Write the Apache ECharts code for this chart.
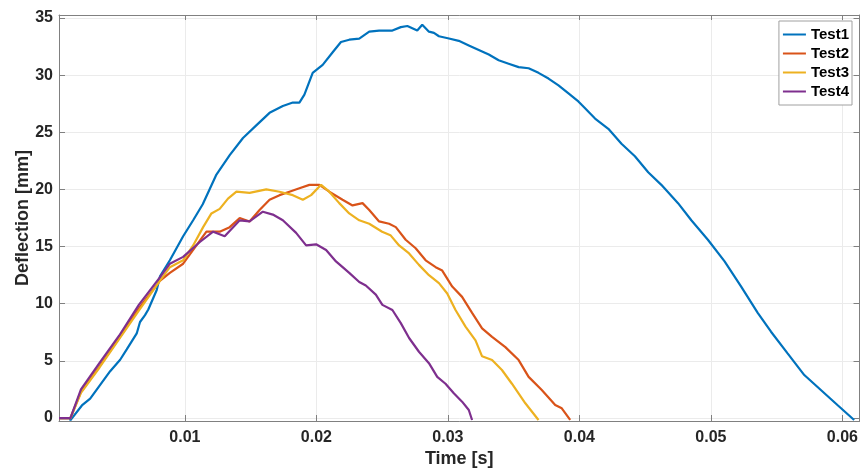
<!DOCTYPE html>
<html>
<head>
<meta charset="utf-8">
<script src="https://cdn.jsdelivr.net/npm/echarts@6/dist/echarts.min.js"></script>
<style>
html,body{margin:0;padding:0;background:#fff;}
#chart{width:861px;height:473px;}
</style>
</head>
<body>
<div id="chart"></div>
<script>
// ---- data (time [s], deflection [mm]) ----
const seriesNames = ['Test1', 'Test2', 'Test3', 'Test4'];
const xTicks = [0.01, 0.02, 0.03, 0.04, 0.05, 0.06];
const yTicks = [0, 5, 10, 15, 20, 25, 30, 35];

const test1 = [[0.00043,0],[0.00125,0],[0.00129,-0.2],[0.00217,1.1],[0.0028,1.7],[0.00356,2.9],[0.00432,4.1],[0.00508,5.1],[0.00558,6.0],[0.00634,7.4],[0.00659,8.4],[0.00697,9.0],[0.00722,9.5],[0.00786,11.2],[0.00811,12.4],[0.00886,13.8],[0.00987,15.9],[0.01063,17.3],[0.01136,18.7],[0.0124,21.3],[0.01341,23.0],[0.01442,24.5],[0.01543,25.6],[0.01644,26.7],[0.01745,27.3],[0.01821,27.6],[0.01871,27.6],[0.01909,28.3],[0.01972,30.2],[0.02048,30.9],[0.02124,32.0],[0.02187,32.9],[0.0225,33.1],[0.02326,33.2],[0.02402,33.8],[0.02477,33.9],[0.02578,33.9],[0.02642,34.2],[0.02692,34.3],[0.02767,33.9],[0.02805,34.4],[0.02856,33.8],[0.02894,33.7],[0.02932,33.4],[0.03008,33.2],[0.03083,33.0],[0.03159,32.6],[0.03235,32.2],[0.03311,31.8],[0.03386,31.3],[0.03462,31.0],[0.03538,30.7],[0.03614,30.6],[0.03689,30.2],[0.03765,29.7],[0.03841,29.1],[0.03917,28.4],[0.03992,27.7],[0.04017,27.4],[0.04119,26.2],[0.0422,25.3],[0.0432,24.0],[0.04422,22.9],[0.04523,21.5],[0.04623,20.4],[0.0475,18.8],[0.04851,17.3],[0.04977,15.6],[0.05104,13.7],[0.0523,11.5],[0.05356,9.2],[0.05457,7.55],[0.05583,5.66],[0.0571,3.76],[0.05836,2.45],[0.05962,1.14],[0.06089,-0.17]];

const test2 = [[0.00043,0],[0.0013,0],[0.0021,2.3],[0.0035,4.5],[0.005,7.0],[0.0065,9.6],[0.0081,12.0],[0.00886,12.7],[0.00987,13.5],[0.01088,15.1],[0.01164,16.3],[0.01265,16.3],[0.01341,16.7],[0.01417,17.5],[0.01492,17.2],[0.01568,18.2],[0.01644,19.1],[0.0172,19.5],[0.01795,19.8],[0.01871,20.1],[0.01947,20.4],[0.02023,20.4],[0.02098,19.8],[0.02199,19.1],[0.02275,18.6],[0.02351,18.8],[0.02402,18.2],[0.02477,17.2],[0.02553,17.0],[0.02604,16.7],[0.02679,15.6],[0.02755,14.85],[0.02831,13.8],[0.02907,13.2],[0.02957,12.9],[0.03033,11.5],[0.03108,10.6],[0.03184,9.2],[0.0326,7.85],[0.03336,7.1],[0.03437,6.2],[0.03538,5.07],[0.03614,3.6],[0.03714,2.45],[0.03816,1.14],[0.03866,0.85],[0.0393,-0.17]];

const test3 = [[0.00043,0],[0.0013,0],[0.0021,2.2],[0.0035,4.4],[0.005,6.9],[0.0065,9.4],[0.0081,12.0],[0.00886,13.2],[0.00987,13.8],[0.01063,15.1],[0.01139,16.7],[0.01202,17.9],[0.01265,18.3],[0.01328,19.2],[0.01392,19.8],[0.01492,19.7],[0.01619,20.0],[0.0172,19.8],[0.01821,19.5],[0.01897,19.1],[0.0196,19.5],[0.02036,20.4],[0.02098,19.8],[0.02174,18.8],[0.0225,17.9],[0.02326,17.3],[0.02402,17.0],[0.025,16.3],[0.02563,16.0],[0.02629,15.1],[0.02705,14.4],[0.0278,13.4],[0.02856,12.5],[0.02932,11.8],[0.02995,10.9],[0.03058,9.45],[0.03134,8.0],[0.0321,6.8],[0.0326,5.4],[0.03336,5.07],[0.03411,4.2],[0.03487,3.0],[0.03589,1.29],[0.03689,-0.17]];

const test4 = [[0.00043,0],[0.0013,0],[0.0021,2.5],[0.0035,4.8],[0.005,7.2],[0.0065,9.9],[0.0081,12.3],[0.00886,13.5],[0.00987,14.1],[0.01114,15.4],[0.01215,16.3],[0.01303,15.9],[0.01417,17.3],[0.01492,17.2],[0.01593,18.05],[0.01669,17.8],[0.01745,17.3],[0.01846,16.2],[0.01922,15.1],[0.01998,15.2],[0.02074,14.7],[0.02149,13.7],[0.0225,12.7],[0.02326,11.9],[0.02376,11.6],[0.02452,10.8],[0.02502,9.9],[0.02578,9.45],[0.02642,8.3],[0.02705,7.0],[0.0278,5.8],[0.02856,4.8],[0.02919,3.6],[0.02982,3.0],[0.03045,2.16],[0.03108,1.43],[0.03159,0.7],[0.03184,-0.17]];

const xRange = [0.00043, 0.0613];
const yRange = [-0.26, 35.26];
const colors = ['#0072BD', '#D95319', '#EDB120', '#7E2F8E'];

// ---- chart ----
const FONT = "'Liberation Sans', Arial, sans-serif";
const TXT = '#262626';
const AX = '#808080';
const isTick = (v, ticks) => ticks.some(t => Math.abs(t - v) < 1e-9);

const chart = echarts.init(document.getElementById('chart'), null, {renderer: 'canvas'});
const baseX = {
  type: 'value', min: xRange[0], max: xRange[1], splitNumber: 6,
  axisLine: {show: true, onZero: false, lineStyle: {color: AX, width: 1}},
  axisTick: {show: true, inside: true, length: 6, lineStyle: {color: AX}},
  minorTick: {show: false}
};
const baseY = {
  type: 'value', min: yRange[0], max: yRange[1], splitNumber: 7,
  axisLine: {show: true, onZero: false, lineStyle: {color: AX, width: 1}},
  axisTick: {show: true, inside: true, length: 6, lineStyle: {color: AX}}
};
const option = {
  backgroundColor: '#fff',
  animation: false,
  color: colors,
  grid: {left: 59, right: -1, top: 15, bottom: 52, containLabel: false},
  legend: {
    orient: 'vertical', right: 9, top: 21,
    data: seriesNames.map(n => ({name: n, icon: 'rect'})),
    backgroundColor: '#fff', borderColor: '#a0a0a0', borderWidth: 1, borderRadius: 0,
    padding: [6, 3, 6, 4],
    itemWidth: 23, itemHeight: 2, itemGap: 4,
    textStyle: {fontFamily: FONT, fontWeight: 'bold', fontSize: 15, color: '#000', lineHeight: 15}
  },
  xAxis: [
    Object.assign({}, baseX, {
      position: 'bottom',
      name: 'Time [s]', nameLocation: 'middle', nameGap: 29, nameMoveOverlap: false,
      nameTextStyle: {fontFamily: FONT, fontWeight: 'bold', fontSize: 18, color: TXT},
      axisLabel: {
        margin: 9, fontFamily: FONT, fontWeight: 'bold', fontSize: 16, color: TXT,
        showMinLabel: false, showMaxLabel: false,
        formatter: v => isTick(v, xTicks) ? String(+v.toFixed(2)) : ''
      },
      splitLine: {show: true, lineStyle: {color: '#ebebeb', width: 1}}
    }),
    Object.assign({}, baseX, {
      position: 'top', axisLabel: {show: false}, splitLine: {show: false},
      axisTick: {show: true, inside: true, length: 5, lineStyle: {color: AX}}
    })
  ],
  yAxis: [
    Object.assign({}, baseY, {
      position: 'left',
      name: 'Deflection [mm]', nameLocation: 'middle', nameGap: 27, nameMoveOverlap: false,
      nameTextStyle: {fontFamily: FONT, fontWeight: 'bold', fontSize: 18, color: TXT},
      axisLabel: {
        margin: 6, fontFamily: FONT, fontWeight: 'bold', fontSize: 16, color: TXT,
        showMinLabel: false, showMaxLabel: false,
        formatter: v => isTick(v, yTicks) ? String(Math.round(v)) : ''
      },
      splitLine: {show: true, lineStyle: {color: '#ebebeb', width: 1}}
    }),
    Object.assign({}, baseY, {
      position: 'right', axisLabel: {show: false}, splitLine: {show: false}
    })
  ],
  series: [test1, test2, test3, test4].map((d, i) => ({
    name: seriesNames[i], type: 'line', data: d,
    xAxisIndex: 0, yAxisIndex: 0,
    symbol: 'none', showSymbol: false, smooth: false,
    lineStyle: {width: 2.2, color: colors[i]}, itemStyle: {color: colors[i]},
    clip: true, z: 2 + i
  }))
};
chart.setOption(option);
</script>
</body>
</html>
